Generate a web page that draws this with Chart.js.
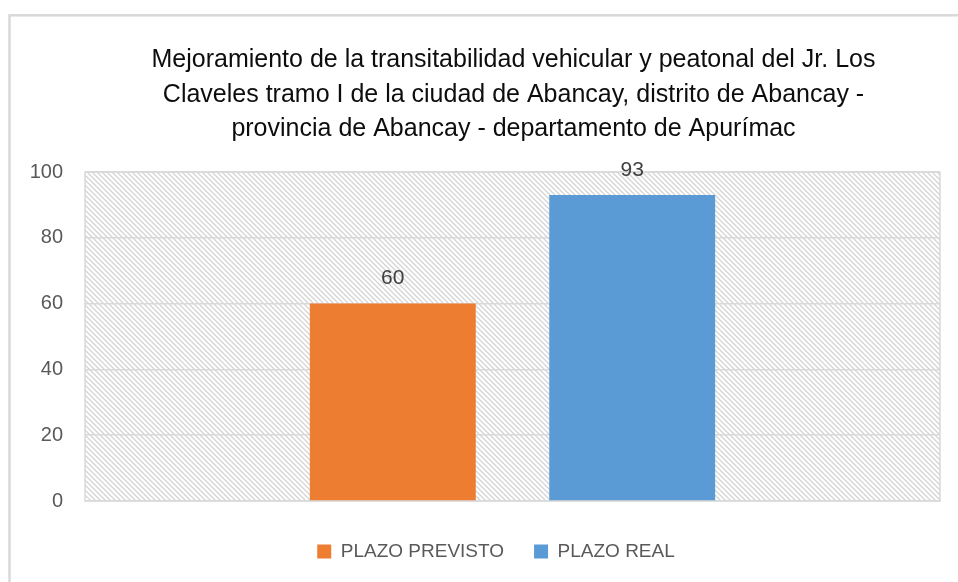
<!DOCTYPE html>
<html>
<head>
<meta charset="utf-8">
<script src="https://cdn.jsdelivr.net/npm/chart.js@4/dist/chart.umd.min.js"></script>
<style>
  html, body { margin: 0; padding: 0; background: #fff; overflow: hidden; }
  #wrap { width: 958px; height: 582px; position: relative; }
</style>
</head>
<body>
<div id="wrap"><canvas id="plazoChart"></canvas></div>
<script>
// data
const titleLines = [
    'Mejoramiento de la transitabilidad vehicular y peatonal del Jr. Los',
    'Claveles tramo I de la ciudad de Abancay, distrito de Abancay -',
    'provincia de Abancay - departamento de Apurímac'
];
const seriesNames = ['PLAZO PREVISTO', 'PLAZO REAL'];
const seriesValues = [60, 93];
const yMin = 0;
const yMax = 100;
const yStep = 20;

// styles
const seriesColors = ['#ED7D31', '#5B9BD5'];
const gridColor = '#d9d9d9';
const textGray = '#595959';
const baseFont = "'Liberation Sans', Arial, sans-serif";

// hatch tile for plot area (light downward diagonal)
function makeHatch() {
    const tile = document.createElement('canvas');
    tile.width = tile.height = 5;
    const t = tile.getContext('2d');
    t.fillStyle = '#fff';
    t.fillRect(0, 0, 5, 5);
    t.strokeStyle = '#d4d4d4';
    t.lineWidth = 1.3;
    t.beginPath();
    t.moveTo(-1, -1); t.lineTo(6, 6);
    t.moveTo(-1, 4); t.lineTo(1, 6);
    t.moveTo(4, -1); t.lineTo(6, 1);
    t.stroke();
    return tile;
}

const framePlugin = {
    id: 'frame',
    afterLayout(chart) {
        // nudge the legend so it sits where the original one does
        chart.legend.left += 26;
        chart.legend.right += 26;
    },
    beforeDraw(chart) {
        const { ctx, chartArea: a } = chart;
        ctx.save();
        ctx.fillStyle = '#fff';
        ctx.fillRect(0, 0, chart.width, chart.height);
        // outer chart frame (runs off the page right and bottom)
        ctx.strokeStyle = gridColor;
        ctx.lineWidth = 2.5;
        ctx.strokeRect(9.5, 15.3, 2000, 2000);
        // plot area hatch + border
        ctx.fillStyle = ctx.createPattern(makeHatch(), 'repeat');
        ctx.fillRect(a.left, a.top, a.right - a.left, a.bottom - a.top);
        ctx.lineWidth = 1.5;
        ctx.strokeRect(a.left, a.top, a.right - a.left, a.bottom - a.top);
        // title
        ctx.fillStyle = '#0d0d0d';
        ctx.font = "25px " + baseFont;
        ctx.textAlign = 'center';
        ctx.textBaseline = 'alphabetic';
        const baselines = [67, 102, 136];
        titleLines.forEach((line, i) => ctx.fillText(line, 513.5, baselines[i]));
        ctx.restore();
    }
};

const valueLabels = {
    id: 'valueLabels',
    afterDatasetsDraw(chart) {
        const { ctx } = chart;
        ctx.save();
        ctx.fillStyle = '#404040';
        ctx.font = "21px " + baseFont;
        ctx.textAlign = 'center';
        ctx.textBaseline = 'middle';
        chart.data.datasets.forEach((ds, i) => {
            chart.getDatasetMeta(i).data.forEach((bar, j) => {
                ctx.fillText(ds.data[j], bar.x, bar.y - 25);
            });
        });
        ctx.restore();
    }
};

new Chart(document.getElementById('plazoChart'), {
    type: 'bar',
    data: {
        labels: [''],
        datasets: seriesNames.map((name, i) => ({
            label: name,
            data: [seriesValues[i]],
            backgroundColor: seriesColors[i],
            borderWidth: 0,
            categoryPercentage: 0.56,
            barPercentage: 0.693
        }))
    },
    options: {
        responsive: true,
        maintainAspectRatio: false,
        animation: false,
        layout: { padding: { left: 0, right: 18, top: 172, bottom: 11 } },
        plugins: {
            title: { display: false },
            tooltip: { enabled: false },
            legend: {
                position: 'bottom',
                labels: {
                    boxWidth: 14,
                    boxHeight: 14,
                    padding: 30,
                    color: textGray,
                    font: { family: baseFont, size: 19 }
                }
            }
        },
        scales: {
            x: {
                grid: { display: false },
                border: { display: false },
                ticks: { display: false },
                afterFit: s => { s.height = 11; }
            },
            y: {
                min: yMin,
                max: yMax,
                ticks: { stepSize: yStep, padding: 22, color: textGray, font: { family: baseFont, size: 20 } },
                grid: { color: gridColor, lineWidth: 1.5, drawTicks: false },
                border: { display: false },
                afterFit: s => { s.width = 85; }
            }
        }
    },
    plugins: [framePlugin, valueLabels]
});
</script>
</body>
</html>
